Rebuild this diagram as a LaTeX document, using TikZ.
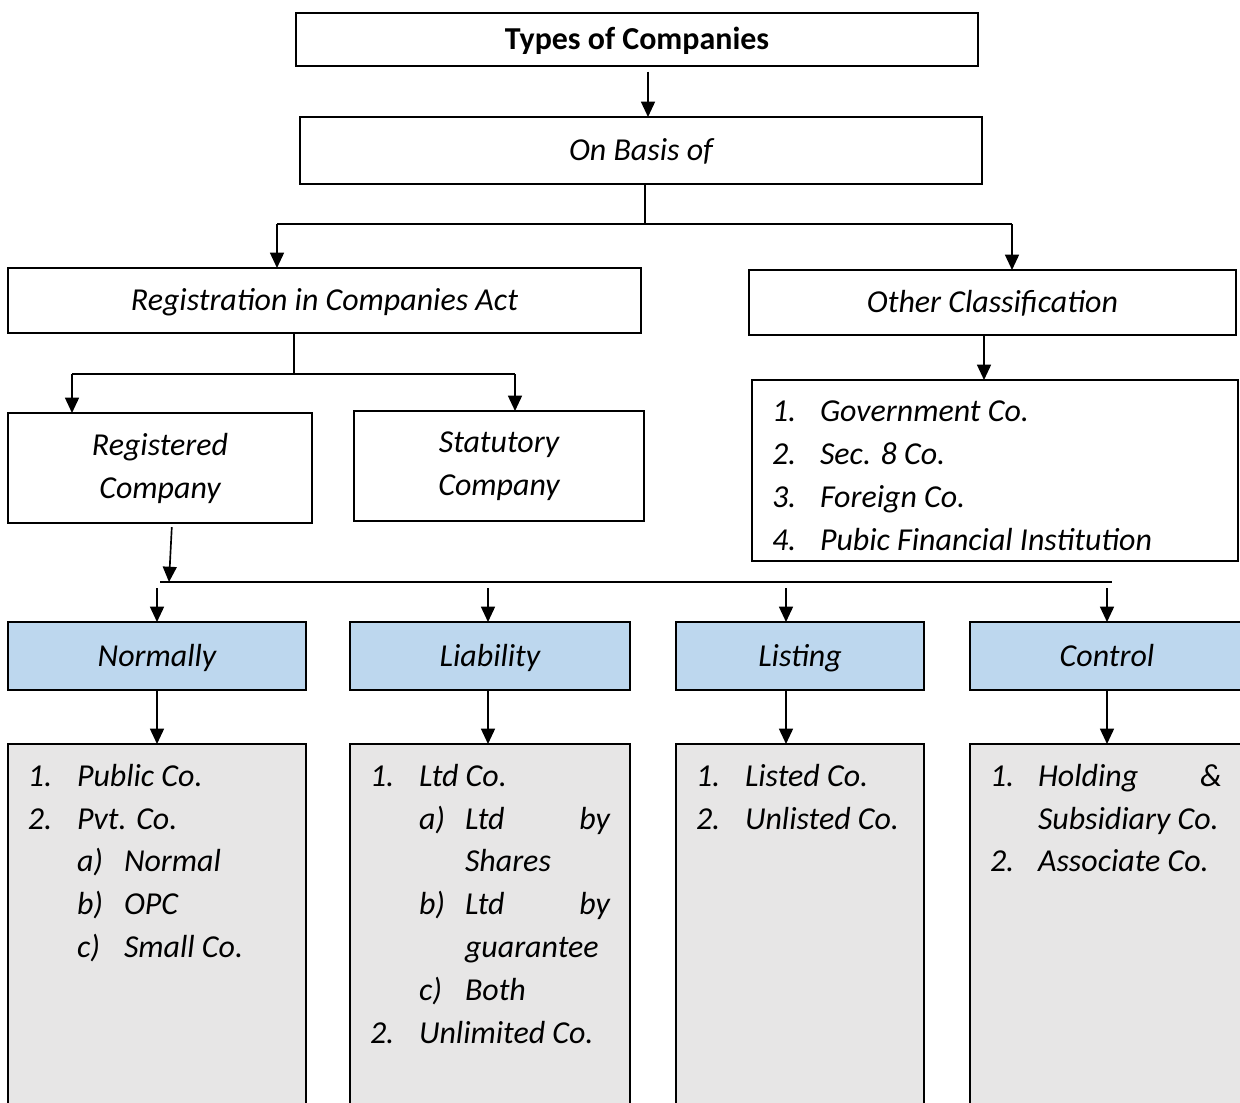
\documentclass[tikz,border=0pt]{standalone}
\usepackage{fontspec}
\setmainfont{Carlito}
\usetikzlibrary{arrows.meta}
\definecolor{blueF}{HTML}{BDD7EE}
\definecolor{grayF}{HTML}{E7E6E6}
\newcommand\bx[7]{\node[#6, minimum width={(#4-#2)*0.36pt}, minimum height={(#5-#3)*0.36pt}] (#1) at ({(#2+#4)/2},{(#3+#5)/2}) {#7};}
\tikzset{
  box/.style={draw, line width=0.6pt, inner sep=0pt, outer sep=0pt, align=center,
    font={\fontsize{11.5}{15.5}\selectfont\itshape}},
  one/.style={text height=9.9pt, text depth=2.5pt},
  bluebox/.style={box, one, fill=blueF},
  graybox/.style={box, fill=grayF},
  itm/.style={anchor=base west, inner sep=0pt, outer sep=0pt,
    font={\fontsize{11.5}{15.5}\selectfont\itshape}},
  ln/.style={line width=0.6pt},
  arr/.style={ln, -{Triangle[length=5.5pt,width=5pt]}}
}
\begin{document}
\begin{tikzpicture}[x=0.36pt, y=-0.36pt]
\useasboundingbox (0,0) rectangle (1240,1102);
% boxes
\bx{types}{296}{13}{978}{66}{box, one, font={\fontsize{11.5}{15.5}\selectfont\bfseries}}{Types of Companies}
\bx{basis}{300}{117}{982}{184}{box, one}{On Basis of}
\bx{reg}{8}{268}{641}{333}{box, one}{Registration in Companies Act}
\bx{oth}{749}{270}{1236}{335}{box, one}{Other Classification}
\bx{regd}{8}{413}{312}{523}{box}{Registered\\Company}
\bx{stat}{354}{411}{644}{521}{box}{Statutory\\Company}
\bx{lst}{752}{380}{1238}{561}{box}{}
\bx{nrm}{8}{622}{306}{690}{bluebox}{Normally}
\bx{lia}{350}{622}{630}{690}{bluebox}{Liability}
\bx{lis}{676}{622}{924}{690}{bluebox}{Listing}
\bx{ctl}{970}{622}{1244}{690}{bluebox}{Control}
\bx{gn}{8}{744}{306}{1112}{graybox}{}
\bx{gl}{350}{744}{630}{1112}{graybox}{}
\bx{gs}{676}{744}{924}{1112}{graybox}{}
\bx{gc}{970}{744}{1244}{1112}{graybox}{}
% coordinates
\coordinate (c1) at (648,0);
\coordinate (j1) at (645,224);
\coordinate (a1) at (277,224);
\coordinate (a2) at (1012,224);
\coordinate (j2) at (294,374);
\coordinate (b1) at (72,374);
\coordinate (b2) at (515,374);
\coordinate (c3) at (984,0);
\coordinate (d0) at (172,0);
\coordinate (d1) at (169,582);
\coordinate (e0) at (160,582);
\coordinate (e1) at (1112,582);
\coordinate (f1) at (157,588);
\coordinate (f2) at (488,588);
\coordinate (f3) at (786,588);
\coordinate (f4) at (1107,588);
% connectors
\draw[arr, shorten <=2pt] (types.south -| c1) -- (basis.north -| c1);
\draw[ln] (basis.south -| j1) -- (j1);
\draw[ln] (a1) -- (a2);
\draw[arr] (a1) -- (a1 |- reg.north);
\draw[arr] (a2) -- (a2 |- oth.north);
\draw[ln] (reg.south -| j2) -- (j2);
\draw[ln] (b1) -- (b2);
\draw[arr] (b1) -- (b1 |- regd.north);
\draw[arr] (b2) -- (b2 |- stat.north);
\draw[arr] (oth.south -| c3) -- (lst.north -| c3);
\draw[arr, shorten <=1.5pt] (regd.south -| d0) -- (d1);
\draw[ln] (e0) -- (e1);
\draw[arr] (f1) -- (f1 |- nrm.north);
\draw[arr] (f2) -- (f2 |- lia.north);
\draw[arr] (f3) -- (f3 |- lis.north);
\draw[arr] (f4) -- (f4 |- ctl.north);
\draw[arr] (nrm.south -| f1) -- (gn.north -| f1);
\draw[arr] (lia.south -| f2) -- (gl.north -| f2);
\draw[arr] (lis.south -| f3) -- (gs.north -| f3);
\draw[arr] (ctl.south -| f4) -- (gc.north -| f4);
% other classification list
\node[itm] (o1n) at (772,421) {1.};
\node[itm] (o1t) at (820,421) {Government Co.};
\node[itm] (o2n) at (772,464) {2.};
\node[itm] (o2t) at (820,464) {Sec. 8 Co.};
\node[itm] (o3n) at (772,507) {3.};
\node[itm] (o3t) at (820,507) {Foreign Co.};
\node[itm] (o4n) at (772,550) {4.};
\node[itm] (o4t) at (820,550) {Pubic Financial Institution};
% Normally list
\node[itm] (n1n) at (28,786) {1.};
\node[itm] (n1t) at (77,786) {Public Co.};
\node[itm] (n2n) at (28,829) {2.};
\node[itm] (n2t) at (77,829) {Pvt. Co.};
\node[itm] (n3n) at (77,871) {a)};
\node[itm] (n3t) at (124,871) {Normal};
\node[itm] (n4n) at (77,914) {b)};
\node[itm] (n4t) at (124,914) {OPC};
\node[itm] (n5n) at (77,957) {c)};
\node[itm] (n5t) at (124,957) {Small Co.};
% Liability list
\node[itm] (l1n) at (370,786) {1.};
\node[itm] (l1t) at (419,786) {Ltd Co.};
\node[itm] (l2n) at (419,829) {a)};
\node[itm] (l2t) at (465,829) {\hbox to 52.2pt{Ltd\hfill by}};
\node[itm] (l3t) at (465,871) {Shares};
\node[itm] (l4n) at (419,914) {b)};
\node[itm] (l4t) at (465,914) {\hbox to 52.2pt{Ltd\hfill by}};
\node[itm] (l5t) at (465,957) {guarantee};
\node[itm] (l6n) at (419,1000) {c)};
\node[itm] (l6t) at (465,1000) {Both};
\node[itm] (l7n) at (370,1043) {2.};
\node[itm] (l7t) at (419,1043) {Unlimited Co.};
% Listing list
\node[itm] (s1n) at (696,786) {1.};
\node[itm] (s1t) at (745,786) {Listed Co.};
\node[itm] (s2n) at (696,829) {2.};
\node[itm] (s2t) at (745,829) {Unlisted Co.};
% Control list
\node[itm] (k1n) at (990,786) {1.};
\node[itm] (k1t) at (1038,786) {\hbox to 66.2pt{Holding\hfill \&}};
\node[itm] (k2t) at (1038,829) {Subsidiary Co.};
\node[itm] (k3n) at (990,871) {2.};
\node[itm] (k3t) at (1038,871) {Associate Co.};
\end{tikzpicture}
\end{document}
